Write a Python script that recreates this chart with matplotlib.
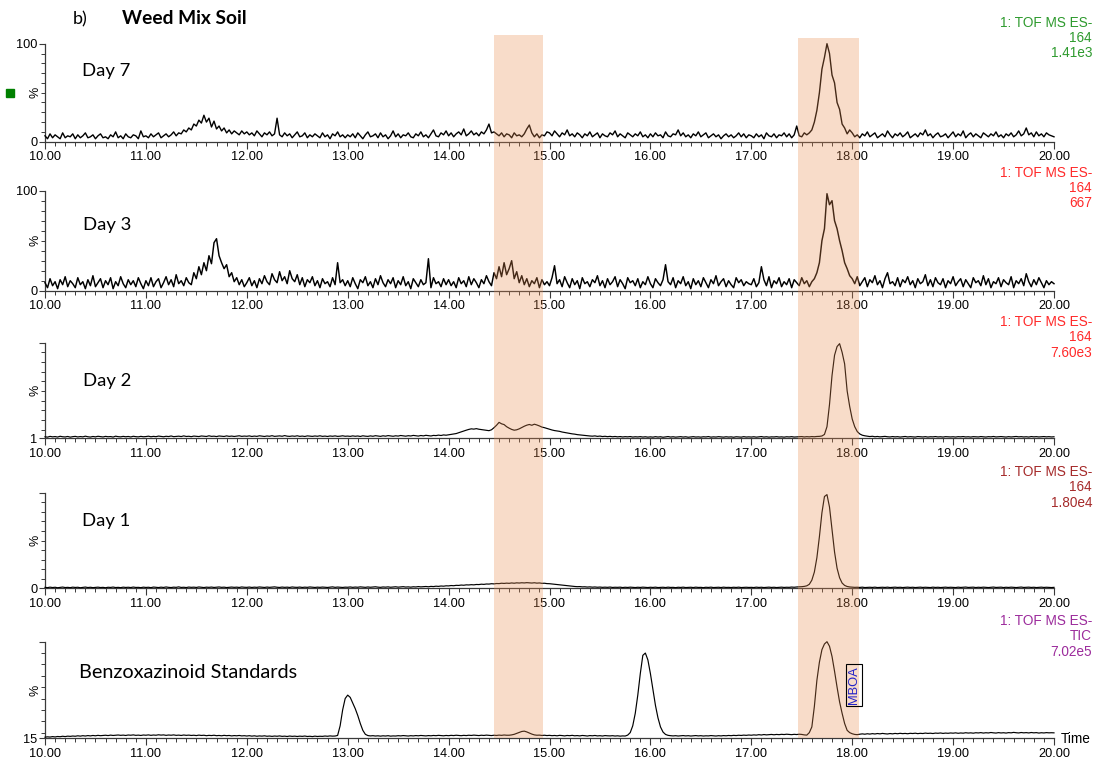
import numpy as np
import matplotlib
matplotlib.use("Agg")
import matplotlib.pyplot as plt
import matplotlib.transforms as mtransforms
from matplotlib.patches import Rectangle
from matplotlib.ticker import MultipleLocator, FixedLocator, FormatStrFormatter

# ---------------------------------------------------------------------------
# Chromatogram intensities (% of full scale), sampled every 0.025 min
# from 10.00 to 20.00 min (one row per minute).
# ---------------------------------------------------------------------------
T_START, T_STEP = 10.0, 0.025

day7 = [
    6, 3, 8, 4, 7, 5, 3, 9, 4, 6, 5, 8, 3, 7, 4, 6, 9, 4, 5, 7, 3, 6, 8, 4, 5, 3, 7, 5, 10, 4, 6, 3, 8, 5, 4, 7, 6, 3, 11, 5,
    6, 4, 8, 5, 7, 9, 4, 6, 8, 5, 7, 10, 6, 9, 8, 12, 10, 14, 12, 18, 16, 22, 19, 27, 20, 24, 15, 21, 13, 16, 11, 14, 9, 12, 8, 11, 9, 7, 11, 8,
    10, 7, 9, 6, 11, 8, 5, 9, 7, 10, 6, 8, 24, 7, 5, 9, 6, 8, 4, 7, 10, 5, 6, 9, 4, 7, 5, 8, 6, 4, 9, 5, 7, 3, 8, 6, 10, 5, 7, 4,
    7, 5, 8, 4, 9, 6, 3, 7, 10, 5, 6, 8, 4, 9, 5, 7, 3, 6, 11, 5, 8, 4, 7, 6, 9, 5, 4, 8, 6, 10, 5, 7, 4, 8, 12, 6, 5, 9, 7, 11,
    6, 9, 5, 8, 10, 7, 13, 6, 8, 11, 7, 9, 6, 10, 8, 12, 18, 9, 10, 8, 6, 9, 5, 8, 7, 4, 9, 6, 7, 5, 8, 13, 17, 9, 5, 8, 4, 7, 6, 10,
    9, 6, 11, 8, 5, 9, 7, 12, 6, 8, 5, 9, 7, 4, 8, 6, 10, 5, 7, 9, 4, 8, 6, 5, 9, 7, 11, 5, 8, 6, 4, 9, 7, 5, 8, 6, 10, 5, 7, 4,
    8, 5, 9, 6, 7, 4, 10, 6, 5, 8, 7, 12, 6, 9, 5, 7, 4, 8, 6, 10, 5, 7, 9, 4, 6, 8, 5, 7, 3, 6, 8, 5, 7, 4, 6, 9, 5, 8, 4, 7,
    6, 4, 8, 5, 7, 3, 9, 6, 5, 8, 4, 7, 6, 9, 5, 8, 4, 7, 16, 6, 5, 9, 7, 9, 12, 20, 32, 50, 74, 86, 100, 90, 68, 60, 40, 33, 18, 14, 8, 12,
    9, 5, 7, 4, 8, 6, 10, 5, 7, 9, 4, 6, 8, 5, 11, 7, 4, 8, 6, 9, 5, 7, 10, 4, 6, 8, 5, 9, 7, 12, 6, 8, 4, 7, 9, 5, 6, 8, 4, 7,
    10, 5, 8, 6, 11, 4, 7, 9, 5, 8, 6, 4, 9, 7, 5, 8, 6, 10, 5, 7, 4, 8, 6, 9, 5, 7, 11, 6, 8, 14, 7, 9, 5, 10, 6, 8, 5, 9, 7, 6,
    5,
]

day3 = [
    8, 3, 12, 5, 9, 2, 11, 6, 14, 4, 10, 7, 3, 13, 6, 9, 2, 11, 5, 15, 4, 8, 12, 3, 10, 6, 13, 2, 9, 5, 14, 7, 3, 11, 6, 10, 4, 13, 7, 2,
    10, 5, 13, 4, 9, 12, 3, 8, 14, 6, 11, 4, 16, 7, 10, 5, 13, 8, 6, 18, 12, 24, 16, 28, 20, 35, 27, 48, 52, 35, 28, 22, 26, 14, 18, 9, 13, 6, 11, 4,
    8, 13, 5, 10, 3, 12, 7, 15, 9, 6, 17, 11, 8, 19, 10, 14, 7, 20, 12, 9, 16, 6, 13, 4, 11, 8, 14, 5, 10, 3, 12, 7, 9, 4, 13, 6, 28, 8, 11, 5,
    10, 4, 13, 7, 2, 11, 8, 14, 5, 9, 3, 12, 6, 15, 8, 4, 11, 7, 13, 3, 10, 6, 14, 5, 9, 2, 12, 8, 4, 11, 6, 8, 32, 3, 13, 7, 9, 4, 12, 6,
    11, 5, 9, 3, 13, 7, 10, 4, 14, 6, 12, 8, 3, 11, 7, 15, 9, 5, 18, 12, 24, 14, 28, 16, 22, 30, 12, 19, 8, 15, 6, 12, 4, 10, 7, 13, 3, 11, 6, 9,
    5, 13, 25, 7, 11, 4, 14, 8, 3, 12, 6, 10, 2, 13, 7, 9, 4, 11, 8, 15, 5, 10, 3, 12, 6, 9, 14, 4, 11, 7, 2, 13, 8, 10, 5, 12, 3, 9, 6, 14,
    7, 3, 12, 8, 5, 11, 26, 9, 6, 13, 3, 10, 7, 14, 5, 9, 2, 12, 6, 10, 4, 13, 8, 3, 11, 7, 15, 5, 9, 12, 4, 10, 6, 3, 13, 8, 11, 5, 9, 7,
    6, 12, 4, 8, 24, 11, 5, 14, 3, 10, 7, 13, 4, 9, 6, 12, 3, 11, 8, 5, 13, 7, 10, 4, 9, 12, 18, 28, 50, 62, 97, 86, 90, 70, 62, 50, 40, 28, 22, 15,
    12, 7, 14, 5, 9, 13, 4, 11, 8, 15, 6, 10, 3, 12, 18, 7, 9, 5, 13, 4, 11, 8, 14, 6, 10, 3, 12, 7, 9, 16, 5, 11, 4, 13, 8, 6, 12, 3, 10, 7,
    14, 5, 9, 12, 4, 11, 7, 3, 13, 8, 10, 5, 15, 6, 12, 3, 9, 7, 13, 4, 11, 8, 6, 14, 3, 10, 7, 12, 5, 17, 9, 4, 11, 6, 13, 8, 3, 10, 6, 9,
    7,
]

day2 = [
    2.6, 2.2, 3.0, 2.5, 2.8, 2.3, 3.1, 2.6, 2.4, 2.9, 2.2, 2.7, 3.0, 2.4, 2.8, 2.5, 3.2, 2.6, 2.3, 2.9,
    2.5, 3.1, 2.7, 2.4, 3.0, 2.6, 2.8, 2.3, 3.2, 2.7, 2.5, 3.0, 2.6, 2.9, 2.4, 3.1, 2.7, 2.5, 3.0, 2.6,
    2.8, 3.2, 2.6, 3.0, 2.7, 3.3, 2.9, 2.6, 3.1, 2.8, 3.4, 2.7, 3.0, 3.2, 2.8, 3.5, 2.9, 3.1, 2.7, 3.3,
    3.0, 2.8, 3.4, 3.1, 2.9, 3.6, 3.0, 3.2, 2.8, 3.4, 3.1, 2.9, 3.5, 3.0, 3.3, 2.9, 3.2, 3.6, 3.0, 3.3,
    3.1, 3.5, 2.9, 3.3, 3.0, 3.6, 3.2, 2.9, 3.4, 3.1, 3.7, 3.0, 3.3, 3.5, 3.1, 3.8, 3.2, 3.0, 3.4, 3.1,
    3.6, 3.0, 3.3, 2.9, 3.5, 3.2, 3.0, 3.4, 3.1, 3.6, 3.0, 3.3, 2.9, 3.4, 3.1, 3.5, 3.0, 3.2, 3.6, 3.1,
    3.3, 3.0, 3.5, 3.1, 3.4, 2.9, 3.6, 3.2, 3.0, 3.5, 3.1, 3.7, 3.3, 3.0, 3.6, 3.2, 3.8, 3.4, 3.1, 3.6,
    3.3, 3.9, 3.5, 3.2, 3.7, 3.4, 4.0, 3.6, 3.3, 3.9, 3.5, 4.1, 3.7, 3.4, 4.0, 3.8, 4.3, 3.9, 4.5, 4.2,
    4.6, 4.9, 5.4, 5.9, 6.8, 7.6, 8.5, 9.4, 10.2, 10.8, 10.5, 11.0, 10.4, 10.0, 9.5, 9.2, 8.9, 9.8, 12.0, 14.5,
    17.5, 16.0, 15.2, 13.0, 11.5, 10.2, 9.4, 9.8, 10.8, 12.2, 13.5, 14.6, 15.3, 14.5, 15.6, 14.8, 13.8, 12.6, 12.0, 11.2,
    10.4, 9.6, 9.0, 8.6, 8.2, 7.5, 7.0, 6.6, 6.0, 5.6, 5.3, 4.8, 4.5, 4.1, 3.9, 3.6, 3.4, 3.2, 3.5, 3.0,
    3.3, 2.8, 3.1, 2.7, 3.0, 2.6, 2.9, 2.5, 2.8, 2.4, 2.7, 2.5, 2.8, 2.3, 2.6, 2.4, 2.7, 2.3, 2.6, 2.2,
    2.5, 2.2, 2.7, 2.3, 2.6, 2.1, 2.5, 2.8, 2.3, 2.6, 2.2, 2.5, 2.7, 2.3, 2.6, 2.1, 2.4, 2.7, 2.3, 2.5,
    2.2, 2.6, 2.4, 2.8, 2.2, 2.5, 2.3, 2.7, 2.4, 2.2, 2.6, 2.3, 2.5, 2.1, 2.6, 2.4, 2.2, 2.7, 2.3, 2.5,
    2.3, 2.6, 2.2, 2.5, 2.8, 2.3, 2.6, 2.2, 2.5, 2.4, 2.7, 2.3, 2.5, 2.2, 2.6, 2.4, 2.7, 2.3, 2.5, 2.6,
    2.8, 2.4, 2.7, 2.5, 2.8, 2.6, 2.9, 3.0, 3.4, 5.0, 13, 36, 66, 87, 96, 99, 90, 78, 50, 34,
    21, 13, 8, 5.5, 4.2, 3.6, 3.2, 2.8, 3.1, 2.6, 2.9, 2.5, 2.8, 3.0, 2.6, 2.4, 2.8, 2.5, 2.7, 2.3,
    2.6, 2.9, 2.4, 2.7, 2.5, 2.3, 2.8, 2.6, 2.4, 2.7, 2.3, 2.6, 2.5, 2.8, 2.4, 2.6, 2.3, 2.7, 2.5, 2.4,
    2.6, 2.3, 2.7, 2.5, 2.8, 2.4, 2.6, 2.3, 2.7, 2.5, 2.4, 2.8, 2.6, 2.3, 2.7, 2.5, 2.9, 2.4, 2.6, 2.8,
    2.5, 2.3, 2.7, 2.4, 2.6, 2.9, 2.5, 2.7, 2.4, 2.6, 2.3, 2.8, 2.5, 2.7, 2.4, 2.6, 2.8, 2.5, 2.7, 2.4,
    2.6,
]

day1 = [
    1.0, 0.7, 1.2, 0.8, 1.1, 0.6, 1.0, 1.3, 0.8, 1.0, 0.7, 1.2, 0.9, 1.1, 0.6, 1.0, 1.3, 0.8, 1.1, 0.7,
    1.0, 1.2, 0.8, 1.0, 0.6, 1.1, 0.9, 1.3, 0.8, 1.0, 0.7, 1.2, 0.9, 1.1, 0.8, 1.3, 0.9, 1.0, 0.7, 1.2,
    0.9, 1.1, 0.7, 1.3, 1.0, 0.8, 1.2, 0.9, 1.4, 1.0, 0.8, 1.2, 1.0, 1.5, 0.9, 1.1, 0.8, 1.3, 1.0, 1.2,
    0.9, 1.4, 1.1, 0.8, 1.2, 1.0, 1.3, 0.9, 1.1, 1.4, 1.0, 1.2, 0.8, 1.1, 1.3, 1.0, 1.2, 0.9, 1.4, 1.1,
    1.0, 1.3, 0.9, 1.2, 1.0, 1.4, 1.1, 0.9, 1.3, 1.0, 1.2, 1.5, 1.1, 0.9, 1.3, 1.0, 1.2, 0.9, 1.4, 1.1,
    1.0, 1.3, 0.9, 1.2, 1.0, 1.4, 1.1, 0.9, 1.2, 1.0, 1.3, 1.1, 0.9, 1.2, 1.5, 1.0, 1.3, 1.1, 0.9, 1.2,
    1.1, 1.4, 1.0, 1.3, 1.1, 1.5, 1.2, 1.0, 1.4, 1.1, 1.3, 1.6, 1.2, 1.0, 1.4, 1.2, 1.5, 1.1, 1.3, 1.6,
    1.2, 1.4, 1.7, 1.3, 1.5, 1.2, 1.6, 1.4, 1.8, 1.5, 1.7, 1.9, 1.6, 2.0, 1.8, 2.2, 2.0, 2.4, 2.2, 2.6,
    2.5, 2.9, 2.7, 3.1, 3.0, 3.4, 3.2, 3.6, 3.5, 3.8, 3.6, 4.0, 3.9, 4.3, 4.1, 4.5, 4.4, 4.8, 4.6, 5.0,
    4.9, 5.3, 5.1, 5.4, 5.2, 5.6, 5.3, 5.7, 5.5, 5.8, 5.6, 5.9, 5.7, 5.5, 5.8, 5.4, 5.6, 5.2, 5.3, 4.9,
    4.8, 4.5, 4.2, 3.9, 3.6, 3.2, 2.9, 2.6, 2.3, 2.1, 1.9, 1.7, 1.8, 1.5, 1.6, 1.3, 1.5, 1.2, 1.4, 1.1,
    1.3, 1.0, 1.2, 1.0, 1.3, 0.9, 1.1, 1.0, 1.2, 0.8, 1.1, 0.9, 1.2, 1.0, 0.8, 1.1, 0.9, 1.2, 1.0, 0.8,
    1.1, 0.9, 1.2, 0.8, 1.0, 1.1, 0.8, 1.2, 0.9, 1.0, 0.7, 1.1, 0.9, 1.2, 0.8, 1.0, 1.1, 0.8, 1.2, 0.9,
    1.0, 0.7, 1.1, 0.9, 1.2, 0.8, 1.0, 1.1, 0.8, 1.2, 0.9, 1.0, 0.8, 1.1, 0.9, 1.2, 0.8, 1.0, 1.1, 0.9,
    1.0, 0.8, 1.2, 0.9, 1.1, 0.8, 1.0, 1.2, 0.9, 1.1, 0.8, 1.0, 1.2, 0.9, 1.1, 1.0, 1.3, 1.1, 1.4, 1.5,
    1.7, 2.0, 2.6, 4.2, 8.5, 17, 32, 54, 79, 96, 98, 85, 61, 38, 21, 11, 5.5, 3.0, 1.9, 1.4,
    1.2, 1.0, 1.1, 0.9, 1.2, 0.8, 1.0, 1.1, 0.9, 1.2, 0.8, 1.0, 1.1, 0.9, 1.2, 0.8, 1.0, 1.2, 0.9, 1.1,
    0.8, 1.0, 1.2, 0.9, 1.1, 0.8, 1.0, 1.2, 0.9, 1.1, 1.0, 0.8, 1.2, 0.9, 1.1, 0.8, 1.0, 1.2, 0.9, 1.1,
    1.0, 0.8, 1.2, 0.9, 1.1, 1.3, 0.9, 1.0, 1.2, 0.8, 1.1, 0.9, 1.2, 1.0, 0.8, 1.1, 1.3, 0.9, 1.0, 1.2,
    0.8, 1.1, 0.9, 1.2, 1.0, 0.8, 1.1, 1.3, 0.9, 1.0, 1.2, 0.9, 1.1, 0.8, 1.0, 1.2, 0.9, 1.1, 1.0, 0.8,
    1.0,
]

standards = [
    16.0, 16.3, 16.1, 16.5, 16.2, 16.6, 16.4, 16.8, 16.5, 16.9, 16.7, 17.0, 16.8, 17.2, 16.9, 17.3, 17.0, 17.4, 17.1, 17.5,
    17.2, 17.6, 17.3, 17.5, 17.7, 17.4, 17.8, 17.5, 17.7, 17.9, 17.6, 17.8, 17.5, 17.9, 17.7, 18.0, 17.6, 17.8, 17.5, 17.9,
    17.7, 18.0, 17.6, 17.9, 17.7, 18.1, 17.8, 18.0, 17.6, 17.9, 17.7, 18.0, 17.6, 17.8, 17.5, 17.9, 17.6, 17.8, 17.5, 17.7,
    17.4, 17.8, 17.5, 17.7, 17.3, 17.6, 17.4, 17.7, 17.3, 17.5, 17.2, 17.6, 17.3, 17.5, 17.1, 17.4, 17.2, 17.5, 17.1, 17.3,
    17.0, 17.3, 16.9, 17.2, 16.8, 17.1, 16.9, 17.2, 16.8, 17.0, 16.7, 17.0, 16.8, 17.1, 16.7, 16.9, 16.6, 17.0, 16.7, 16.9,
    16.6, 16.9, 16.7, 17.0, 16.6, 16.8, 16.5, 16.9, 16.6, 16.8, 16.7, 17.0, 16.8, 17.1, 16.9, 17.0, 17.5, 26, 40, 50,
    53, 51, 46, 41, 35, 28, 22, 18.5, 17.4, 17.1, 17.3, 17.0, 17.2, 16.9, 17.2, 17.0, 17.3, 16.9, 17.1, 17.0,
    17.3, 17.1, 17.4, 17.2, 17.0, 17.3, 17.1, 17.4, 17.2, 17.5, 17.3, 17.1, 17.4, 17.2, 17.5, 17.3, 17.6, 17.4, 17.2, 17.5,
    17.3, 17.6, 17.4, 17.7, 17.5, 17.3, 17.6, 17.4, 17.7, 17.5, 17.8, 17.6, 17.4, 17.7, 17.5, 17.8, 17.6, 17.4, 17.7, 17.5,
    17.8, 17.6, 17.9, 17.7, 17.7, 18.0, 18.5, 19.3, 20.2, 21.0, 21.3, 20.6, 19.6, 18.7, 18.0, 17.7, 17.8, 17.5, 17.7, 17.4,
    17.6, 17.3, 17.5, 17.2, 17.6, 17.4, 17.1, 17.5, 17.3, 17.6, 17.2, 17.4, 17.1, 17.5, 17.3, 17.0, 17.4, 17.2, 17.5, 17.1,
    17.3, 17.0, 17.4, 17.2, 17.1, 17.3, 17.0, 17.2, 16.9, 17.1, 17.0, 17.8, 20, 26, 37, 53, 72, 88, 90, 84,
    72, 58, 44, 33, 25, 20.5, 18.4, 17.6, 17.3, 17.1, 17.3, 17.0, 17.2, 17.4, 17.1, 17.3, 17.0, 17.2, 17.4, 17.1,
    17.3, 17.0, 17.2, 17.1, 17.4, 17.2, 17.0, 17.3, 17.1, 17.4, 17.2, 17.5, 17.3, 17.6, 17.4, 17.7, 17.5, 17.8, 17.6, 17.9,
    17.7, 18.0, 17.8, 18.2, 17.9, 18.3, 18.0, 18.2, 18.4, 18.1, 18.4, 18.2, 18.5, 18.3, 18.6, 18.4, 18.2, 18.5, 18.3, 18.6,
    18.4, 18.0, 17.8, 20, 25, 43, 66, 82, 93, 98, 100, 96, 87, 74, 60, 47, 37, 28, 22, 20,
    19.0, 18.4, 18.2, 18.6, 18.9, 18.6, 19.0, 18.7, 19.1, 18.8, 19.2, 18.9, 19.3, 19.0, 18.8, 19.2, 18.9, 19.3, 19.0, 19.4,
    19.1, 19.3, 19.0, 19.4, 19.2, 19.5, 19.1, 19.4, 19.2, 19.6, 19.3, 19.5, 19.2, 19.6, 19.4, 19.7, 19.3, 19.6, 19.4, 19.7,
    19.5, 19.8, 19.4, 19.7, 19.5, 19.9, 19.6, 19.8, 19.5, 19.9, 19.7, 20.0, 19.6, 19.9, 19.7, 20.1, 19.8, 19.6, 20.0, 19.7,
    19.9, 19.6, 20.0, 19.8, 20.2, 19.9, 19.7, 20.1, 19.8, 20.0, 19.7, 20.1, 19.8, 20.0, 19.6, 19.9, 19.7, 20.0, 19.8, 19.9,
    19.8,
]

panel_names = ["Day 7", "Day 3", "Day 2", "Day 1", "Benzoxazinoid Standards"]
panel_series = [day7, day3, day2, day1, standards]
panel_ymin = [0, 0, 1, 0, 15]
panel_top_label = [True, True, False, False, False]
trace_ids = ["164", "164", "164", "164", "TIC"]
trace_scales = ["1.41e3", "667", "7.60e3", "1.80e4", "7.02e5"]
trace_colors = ["#2e9a2e", "#ff2a2a", "#ff2a2a", "#a52a2a", "#9c2c9c"]

# shaded retention-time windows (min)
windows = [(14.45, 14.935), (17.465, 18.065)]

# ---------------------------------------------------------------------------
W, H = 1097, 760
fig = plt.figure(figsize=(W / 100, H / 100), dpi=100)


def fx(px):
    return px / W


def fy(py):
    return 1 - py / H


SANS = ["Liberation Sans", "DejaVu Sans"]
CAL = ["Lato", "DejaVu Sans"]

# axes layout in pixels: (top, bottom)
ax_rows = [(43.7, 141.7), (190.7, 290.7), (342.7, 438.3), (492.7, 588.3), (641.7, 738.3)]
x_left, x_right = 45, 1054
name_pos = [(82, 71), (83, 225), (83, 381), (82, 521), (79, 672)]
name_size = [13.3, 13.3, 13.3, 13.3, 14.3]
trace_lw = [1.0, 1.05, 0.85, 0.85, 0.85]
header_y = [22.7, 172.7, 322.0, 472.0, 621.0]
line_gap = 15.3

axes = []
for i, (top, bot) in enumerate(ax_rows):
    ax = fig.add_axes([fx(x_left), fy(bot), (x_right - x_left) / W, (bot - top) / H])
    axes.append(ax)
    y = np.asarray(panel_series[i], dtype=float)
    t = T_START + T_STEP * np.arange(len(y))
    ax.plot(t, y, color="black", lw=trace_lw[i], clip_on=False, zorder=3)

    ymin = panel_ymin[i]
    ax.set_xlim(10, 20)
    ax.set_ylim(ymin, 100)
    ax.patch.set_alpha(0)
    for s in ("top", "right"):
        ax.spines[s].set_visible(False)
    for s in ("left", "bottom"):
        ax.spines[s].set_color("#3a3a3a")
        ax.spines[s].set_linewidth(0.9)

    ax.xaxis.set_major_locator(MultipleLocator(1))
    ax.xaxis.set_minor_locator(MultipleLocator(0.1))
    ax.xaxis.set_major_formatter(FormatStrFormatter("%.2f"))

    ax.yaxis.set_major_locator(FixedLocator([ymin, 100]))
    ax.yaxis.set_minor_locator(FixedLocator([v for v in range(10, 100, 10) if v > ymin]))
    ax.set_yticklabels([str(ymin), "100" if panel_top_label[i] else ""])

    ax.tick_params(axis="x", which="major", length=4.8, width=0.8, pad=2.2,
                   labelsize=9.2, color="#3a3a3a")
    ax.tick_params(axis="x", which="minor", length=2.8, width=0.7, color="#3a3a3a")
    ax.tick_params(axis="y", which="major", length=4.5, width=0.8, pad=1,
                   labelsize=9.2, color="#3a3a3a")
    ax.tick_params(axis="y", which="minor", length=3.0, width=0.7, color="#3a3a3a")
    for lab in ax.get_xticklabels() + ax.get_yticklabels():
        lab.set_family(SANS)

    ax.text(-9.5 / (x_right - x_left), 0.5, "%", transform=ax.transAxes,
            rotation=90, ha="center", va="center", fontsize=9, family=SANS)

    # panel name
    nx, ny = name_pos[i]
    fig.text(fx(nx), fy(ny), panel_names[i], fontsize=name_size[i], family=CAL,
             ha="left", va="center")

    # trace description, right-aligned
    lines = ["1: TOF MS ES-", trace_ids[i], trace_scales[i]]
    for k, line in enumerate(lines):
        fig.text(fx(1092), fy(header_y[i] + k * line_gap), line, fontsize=9.8,
                 family=SANS, color=trace_colors[i], ha="right", va="center")

# axis caption
fig.text(fx(1061), fy(739), "Time", fontsize=9.8, family=SANS, ha="left", va="center")

# title
fig.text(fx(73), fy(19), "b)", fontsize=13, family=CAL, ha="left", va="center")
fig.text(fx(122), fy(19), "Weed Mix Soil", fontsize=13.8, family=CAL,
         fontweight="bold", ha="left", va="center")

# small marker square
fig.add_artist(Rectangle((fx(6), fy(97)), 8 / W, 8 / H, transform=fig.transFigure,
                         color="#008000", zorder=5))

# shaded windows spanning all traces
blend = mtransforms.blended_transform_factory(axes[-1].transData, fig.transFigure)
band_tops = [35, 38]
for (x0, x1), ytop in zip(windows, band_tops):
    fig.add_artist(Rectangle((x0, fy(738)), x1 - x0, fy(ytop) - fy(738),
                             transform=blend, facecolor=(0.91, 0.55, 0.31),
                             edgecolor="none", alpha=0.3, zorder=10))

# compound annotation in the standards trace, drawn above the shading
mboa = fig.text(0, 0, "MBOA", rotation=90, color="#2222c8", fontsize=9.3,
                family=SANS, ha="center", va="center", zorder=12,
                bbox=dict(boxstyle="square,pad=0.15", fc="none", ec="black", lw=0.8))
mboa.set_transform(axes[-1].transData)
mboa.set_position((18.02, 62))

fig.savefig("out.png", dpi=100)
